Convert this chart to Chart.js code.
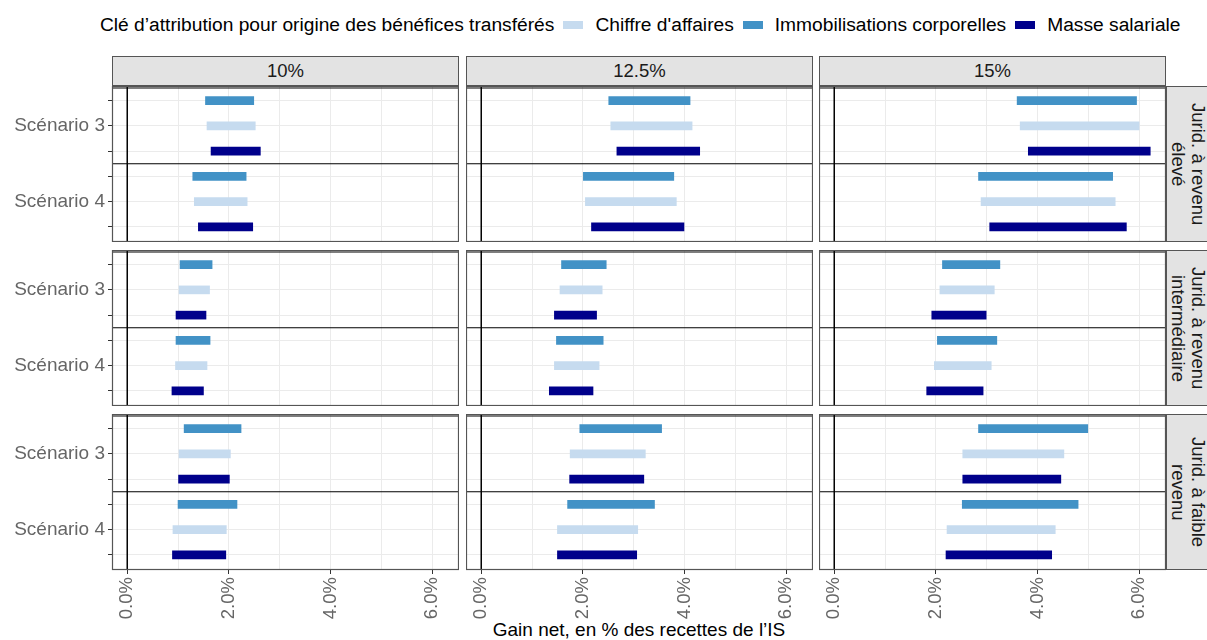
<!DOCTYPE html>
<html lang="fr">
<head>
<meta charset="utf-8">
<title>Gain net par clé d'attribution</title>
<script src="https://cdn.jsdelivr.net/npm/chart.js@4.4.1/dist/chart.umd.min.js"></script>
<style>
  body { margin: 0; width: 1207px; height: 640px; overflow: hidden; background: #fff; position: relative;
         font-family: 'Liberation Sans', Arial, Helvetica, sans-serif; }
  canvas { position: absolute; }
  .legend { position: absolute; left: 100px; top: 14px; height: 22px; display: flex; align-items: center;
            font-size: 19.2px; line-height: 22px; color: #000; white-space: nowrap; }
  .legend .key { width: 20px; height: 8px; margin: 0 12px 0 9px; }
  .strip { position: absolute; box-sizing: border-box; background: #e3e3e3; border: 1px solid #555;
           color: #1a1a1a; font-size: 18.5px; display: flex; align-items: center; justify-content: center; }
  .strip.side { writing-mode: vertical-rl; text-align: center; line-height: 20px; }
  .xtitle { position: absolute; left: 112px; width: 1054px; top: 619px; text-align: center;
            font-size: 19px; line-height: 22px; color: #000; white-space: nowrap; }
</style>
</head>
<body>
<div class="legend" id="legend"></div>
<div class="xtitle">Gain net, en % des recettes de l’IS</div>
<script>
const legendTitle = 'Clé d’attribution pour origine des bénéfices transférés';
const rates = ['10%', '12.5%', '15%'];
const groups = [['Jurid. à revenu', 'élevé'], ['Jurid. à revenu', 'intermédiaire'], ['Jurid. à faible', 'revenu']];
const scenarios = ['Scénario 3', 'Scénario 4'];
const keyLabels = ["Chiffre d'affaires", 'Immobilisations corporelles', 'Masse salariale'];
const keyColors = ['#c6dbef', '#4292c6', '#00008b'];
const xTicks = [0, 1, 2, 3, 4, 5, 6];

// net gain range [low, high] in % of IS receipts, indexed [group][rate][scenario]
const chiffreAffaires = [
  [[[1.57, 2.52], [1.32, 2.36]], [[2.55, 4.15], [2.05, 3.84]], [[3.66, 6.00], [2.89, 5.53]]],
  [[[1.02, 1.62], [0.95, 1.57]], [[1.55, 2.38], [1.44, 2.32]], [[2.08, 3.15], [1.97, 3.09]]],
  [[[1.02, 2.03], [0.90, 1.95]], [[1.75, 3.23], [1.50, 3.08]], [[2.53, 4.52], [2.22, 4.35]]]
];
const immobilisations = [
  [[[1.54, 2.49], [1.29, 2.34]], [[2.51, 4.11], [2.01, 3.79]], [[3.60, 5.95], [2.84, 5.48]]],
  [[[1.04, 1.67], [0.96, 1.63]], [[1.58, 2.46], [1.48, 2.40]], [[2.13, 3.26], [2.03, 3.20]]],
  [[[1.12, 2.24], [1.00, 2.16]], [[1.94, 3.55], [1.70, 3.41]], [[2.84, 4.99], [2.52, 4.80]]]
];
const masseSalariale = [
  [[[1.65, 2.62], [1.40, 2.47]], [[2.67, 4.30], [2.17, 3.99]], [[3.82, 6.22], [3.06, 5.75]]],
  [[[0.96, 1.55], [0.88, 1.50]], [[1.44, 2.27], [1.34, 2.20]], [[1.92, 2.99], [1.82, 2.93]]],
  [[[1.01, 2.01], [0.89, 1.94]], [[1.74, 3.20], [1.50, 3.06]], [[2.53, 4.46], [2.20, 4.28]]]
];

// row of each key inside a scenario block (Immobilisations on top, Masse at the bottom)
const rowOffset = [2, 1, 3];
const separators = [0.5, 3.5];

// facet layout
const colX = [112, 466, 819];
const rowY = [86, 250, 414];
const panelW = 347;
const panelH = 156;
const yAxisW = 112;
const xAxisH = 70;

Chart.defaults.font.family = "'Liberation Sans', Arial, Helvetica, sans-serif";
Chart.defaults.font.size = 19;

const panelLines = {
  id: 'panelLines',
  beforeDatasetsDraw(chart) {
    const { ctx, chartArea: a, scales: { x, y } } = chart;
    ctx.save();
    ctx.strokeStyle = '#000';
    ctx.lineWidth = 1.5;
    const x0 = x.getPixelForValue(0);
    ctx.beginPath();
    ctx.moveTo(x0, a.top);
    ctx.lineTo(x0, a.bottom);
    ctx.stroke();
    ctx.lineWidth = 1.2;
    separators.forEach(v => {
      const py = y.getPixelForValue(v);
      ctx.beginPath();
      ctx.moveTo(a.left, py);
      ctx.lineTo(a.right, py);
      ctx.stroke();
    });
    ctx.restore();
  },
  afterDraw(chart) {
    const { ctx, chartArea: a } = chart;
    ctx.save();
    ctx.strokeStyle = '#555';
    ctx.lineWidth = 1.2;
    ctx.strokeRect(a.left + 0.5, a.top + 0.5, a.right - a.left - 1, a.bottom - a.top - 1);
    ctx.restore();
  }
};

function makePanel(g, r) {
  const firstCol = r === 0;
  const lastRow = g === groups.length - 1;
  const left = colX[r] - (firstCol ? yAxisW : 0);
  const canvas = document.createElement('canvas');
  canvas.width = colX[r] + panelW - left;
  canvas.height = panelH + (lastRow ? xAxisH : 0);
  canvas.style.left = left + 'px';
  canvas.style.top = rowY[g] + 'px';
  document.body.appendChild(canvas);

  const series = [chiffreAffaires, immobilisations, masseSalariale];
  const datasets = series.map((s, k) => ({
    label: keyLabels[k],
    data: scenarios.map((_, si) => ({ x: s[g][r][si], y: si * 3 + rowOffset[k] })),
    backgroundColor: keyColors[k],
    barThickness: 8,
    grouped: false
  }));

  new Chart(canvas, {
    type: 'bar',
    data: { datasets },
    options: {
      indexAxis: 'y',
      responsive: false,
      animation: false,
      layout: { padding: 0 },
      plugins: { legend: { display: false }, tooltip: { enabled: false } },
      scales: {
        x: {
          type: 'linear',
          min: -0.3,
          max: 6.53,
          afterBuildTicks: s => { s.ticks = xTicks.map(v => ({ value: v })); },
          afterFit: s => {
            s.height = lastRow ? xAxisH : 0;
            s.paddingLeft = s.paddingRight = 0;
          },
          border: { display: false },
          grid: {
            color: '#ebebeb',
            drawTicks: lastRow,
            tickLength: 4,
            tickColor: c => (c.tick && c.tick.value % 2 === 0 ? '#333' : 'rgba(0,0,0,0)')
          },
          ticks: {
            display: lastRow,
            autoSkip: false,
            minRotation: 90,
            maxRotation: 90,
            padding: 3,
            color: '#666',
            font: { size: 18.5 },
            callback: v => (v % 2 === 0 ? v.toFixed(1) + '%' : '')
          }
        },
        y: {
          type: 'linear',
          reverse: true,
          offset: false,
          min: 0.42,
          max: 6.6,
          afterBuildTicks: s => { s.ticks = [1, 2, 3, 4, 5, 6].map(v => ({ value: v })); },
          afterFit: s => {
            s.width = firstCol ? yAxisW : 0;
            s.paddingTop = s.paddingBottom = 0;
          },
          border: { display: false },
          grid: { offset: false, color: '#ebebeb', drawTicks: firstCol, tickLength: 4, tickColor: '#333' },
          ticks: {
            display: firstCol,
            padding: 3,
            color: '#666',
            callback: v => (v % 3 === 2 ? scenarios[(v - 2) / 3] : '')
          }
        }
      }
    },
    plugins: [panelLines]
  });
}

function addStrip(text, x, y, w, h, side) {
  const d = document.createElement('div');
  d.className = 'strip' + (side ? ' side' : '');
  d.style.left = x + 'px';
  d.style.top = y + 'px';
  d.style.width = w + 'px';
  d.style.height = h + 'px';
  d.innerHTML = text;
  document.body.appendChild(d);
}

rates.forEach((rate, r) => addStrip(rate, colX[r], 56, panelW, 30, false));
groups.forEach((lines, g) => addStrip('<div>' + lines.join('<br>') + '</div>', 1166, rowY[g], 44, panelH, true));

groups.forEach((_, g) => rates.forEach((_, r) => makePanel(g, r)));

// legend
const legend = document.getElementById('legend');
legend.innerHTML = '<span>' + legendTitle + '</span>' +
  keyLabels.map((l, k) => '<span class="key" style="background:' + keyColors[k] + '"></span><span>' + l + '</span>').join('');
</script>
</body>
</html>
